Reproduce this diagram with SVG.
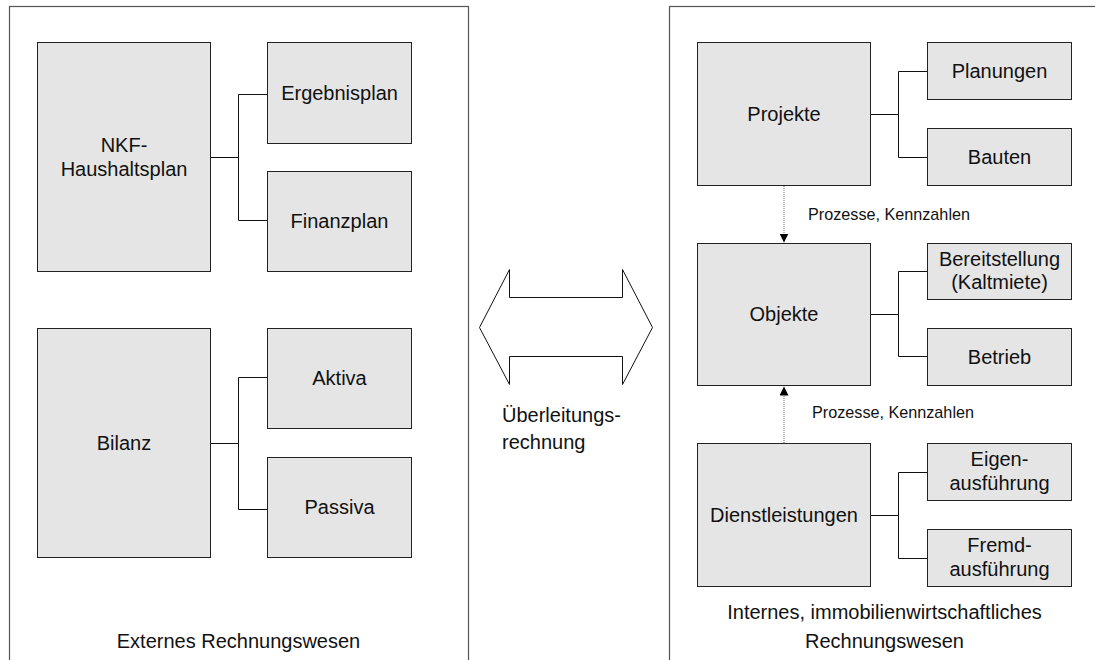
<svg xmlns="http://www.w3.org/2000/svg" width="1095" height="660" viewBox="0 0 1095 660">
<defs>
<style>
.frame{fill:#fff;stroke:#555;stroke-width:1.2}
.box{fill:#e5e5e5;stroke:#222;stroke-width:1}
.t{font-family:"Liberation Sans",Arial,sans-serif;font-size:20px;fill:#111;text-anchor:middle}
.lbl{font-family:"Liberation Sans",Arial,sans-serif;font-size:16.2px;fill:#111}
.con{fill:none;stroke:#111;stroke-width:1}
.flow{fill:none;stroke:#888;stroke-width:1.2;stroke-dasharray:1 1}
</style>
<marker id="ah" viewBox="0 0 10 10" refX="10" refY="5" markerWidth="9" markerHeight="9" markerUnits="userSpaceOnUse" orient="auto">
<path d="M0,0 L10,5 L0,10 Z" fill="#000"/>
</marker>
</defs>
<rect width="1095" height="660" fill="#fff"/>

<g id="frame-left">
<rect class="frame" x="9.5" y="6.5" width="459" height="670"/>
<text class="t" x="238.5" y="648">Externes Rechnungswesen</text>
</g>
<g id="frame-right">
<rect class="frame" x="669.5" y="6.5" width="431" height="670"/>
<text class="t" x="884.5" y="619">Internes, immobilienwirtschaftliches</text>
<text class="t" x="884.5" y="648">Rechnungswesen</text>
</g>

<g id="connectors">
<path class="con" d="M210.5,157.5 H238.5 M238.5,94.5 V220.5 M238.5,94.5 H267.5 M238.5,220.5 H267.5"/>
<path class="con" d="M210.5,443.5 H238.5 M238.5,377.5 V509.5 M238.5,377.5 H267.5 M238.5,509.5 H267.5"/>
<path class="con" d="M870.5,114.5 H898.5 M898.5,71.5 V157.5 M898.5,71.5 H927.5 M898.5,157.5 H927.5"/>
<path class="con" d="M870.5,314.5 H898.5 M898.5,271.5 V356.5 M898.5,271.5 H927.5 M898.5,356.5 H927.5"/>
<path class="con" d="M870.5,515.5 H898.5 M898.5,472.5 V558.5 M898.5,472.5 H927.5 M898.5,558.5 H927.5"/>
<path class="flow" d="M784,186 V242.5" marker-end="url(#ah)"/>
<path class="flow" d="M784,443 V386.5" marker-end="url(#ah)"/>
<text class="lbl" x="808" y="220">Prozesse, Kennzahlen</text>
<text class="lbl" x="812" y="418">Prozesse, Kennzahlen</text>
</g>

<g id="overleitung">
<polygon points="479.5,327.5 509.5,269.5 509.5,297.5 622.5,297.5 622.5,269.5 652.5,327.5 622.5,384.5 622.5,356.5 509.5,356.5 509.5,384.5" fill="#fff" stroke="#111" stroke-width="1"/>
<text class="t" x="502" y="422" style="text-anchor:start">Überleitungs-</text>
<text class="t" x="502" y="449" style="text-anchor:start">rechnung</text>
</g>

<g id="nkf">
<rect class="box" x="37.5" y="42.5" width="173" height="229"/>
<text class="t" x="124" y="152">NKF-</text>
<text class="t" x="124" y="176">Haushaltsplan</text>
</g>
<g id="ergebnisplan">
<rect class="box" x="267.5" y="42.5" width="144" height="101"/>
<text class="t" x="339.5" y="99.5">Ergebnisplan</text>
</g>
<g id="finanzplan">
<rect class="box" x="267.5" y="171.5" width="144" height="100"/>
<text class="t" x="339.5" y="228">Finanzplan</text>
</g>
<g id="bilanz">
<rect class="box" x="37.5" y="328.5" width="173" height="229"/>
<text class="t" x="124" y="449.5">Bilanz</text>
</g>
<g id="aktiva">
<rect class="box" x="267.5" y="328.5" width="144" height="100"/>
<text class="t" x="339.5" y="385">Aktiva</text>
</g>
<g id="passiva">
<rect class="box" x="267.5" y="457.5" width="144" height="100"/>
<text class="t" x="339.5" y="513.5">Passiva</text>
</g>

<g id="projekte">
<rect class="box" x="697.5" y="42.5" width="173" height="143"/>
<text class="t" x="784" y="121">Projekte</text>
</g>
<g id="planungen">
<rect class="box" x="927.5" y="42.5" width="144" height="57"/>
<text class="t" x="999.5" y="78">Planungen</text>
</g>
<g id="bauten">
<rect class="box" x="927.5" y="128.5" width="144" height="57"/>
<text class="t" x="999.5" y="164">Bauten</text>
</g>
<g id="objekte">
<rect class="box" x="697.5" y="243.5" width="173" height="142"/>
<text class="t" x="784" y="321">Objekte</text>
</g>
<g id="bereitstellung">
<rect class="box" x="927.5" y="243.5" width="144" height="56"/>
<text class="t" x="999.5" y="266">Bereitstellung</text>
<text class="t" x="999.5" y="289">(Kaltmiete)</text>
</g>
<g id="betrieb">
<rect class="box" x="927.5" y="328.5" width="144" height="57"/>
<text class="t" x="999.5" y="364">Betrieb</text>
</g>
<g id="dienstleistungen">
<rect class="box" x="697.5" y="443.5" width="173" height="143"/>
<text class="t" x="784" y="522">Dienstleistungen</text>
</g>
<g id="eigenausfuehrung">
<rect class="box" x="927.5" y="443.5" width="144" height="57"/>
<text class="t" x="999.5" y="466">Eigen-</text>
<text class="t" x="999.5" y="490">ausführung</text>
</g>
<g id="fremdausfuehrung">
<rect class="box" x="927.5" y="529.5" width="144" height="57"/>
<text class="t" x="999.5" y="552">Fremd-</text>
<text class="t" x="999.5" y="576">ausführung</text>
</g>
</svg>
